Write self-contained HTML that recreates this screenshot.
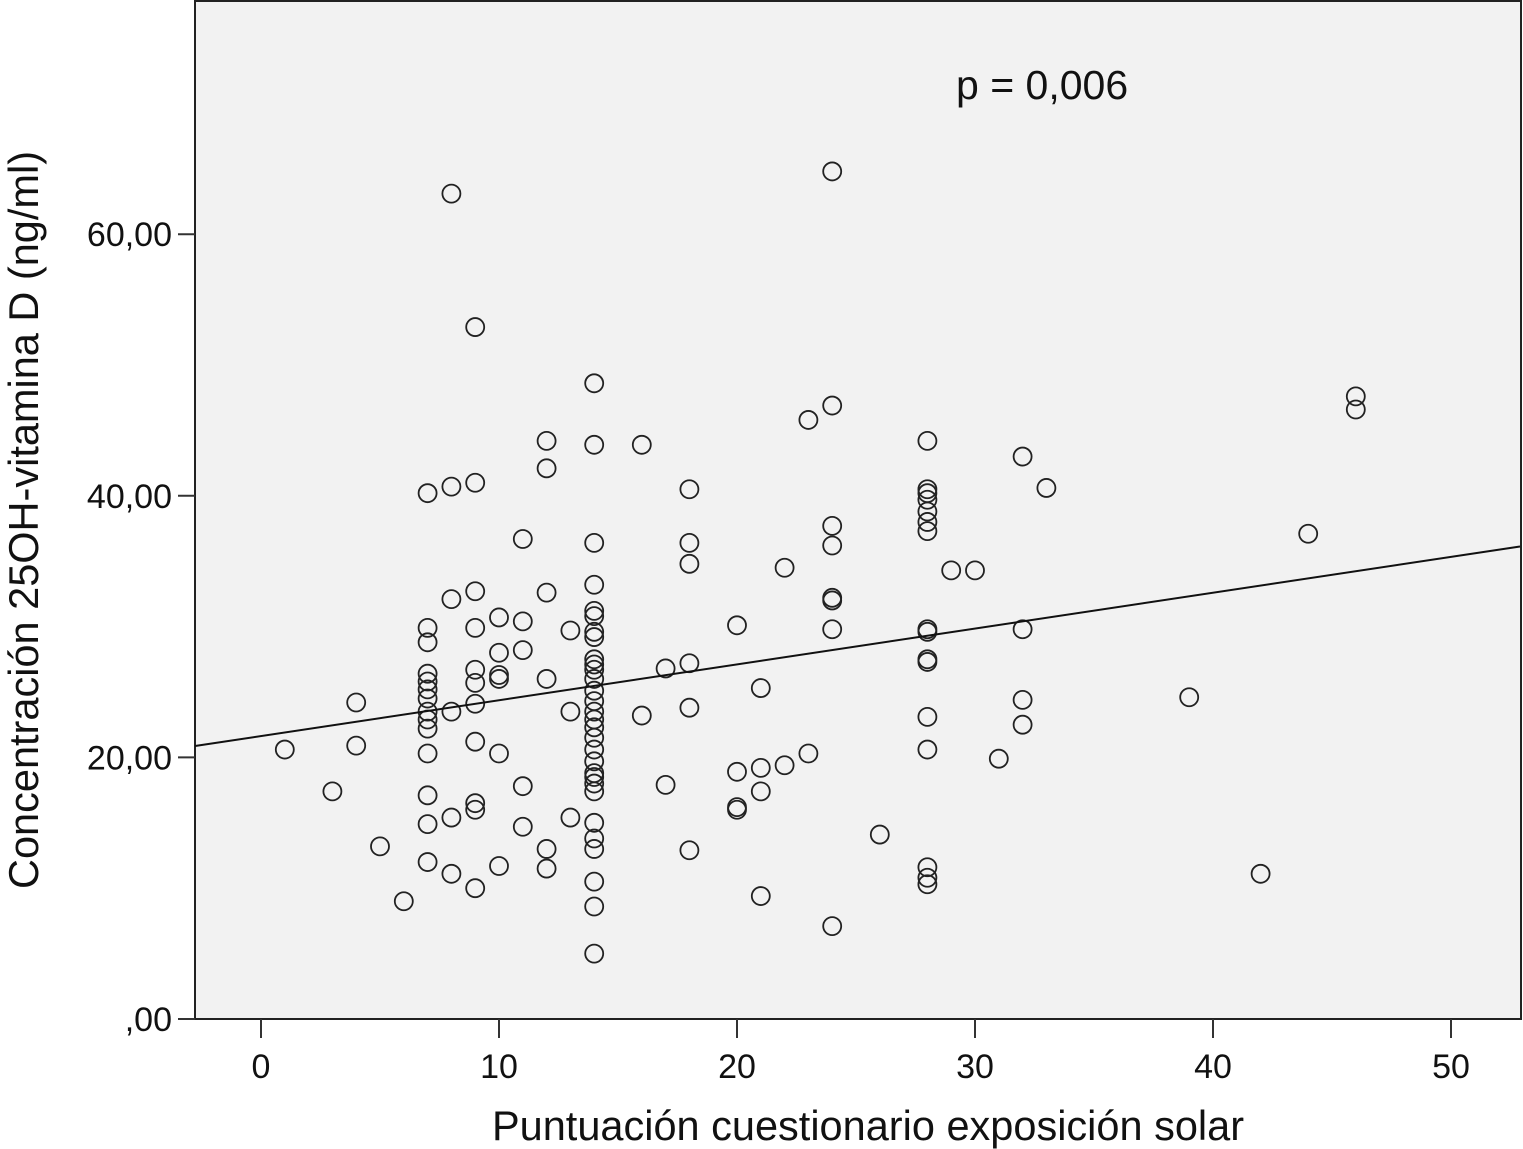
<!DOCTYPE html>
<html><head><meta charset="utf-8"><style>
html,body{margin:0;padding:0;background:#fff;}
svg{display:block;font-family:"Liberation Sans",Arial,sans-serif;}
</style></head><body>
<svg id="chart" width="1523" height="1149" viewBox="0 0 1523 1149" xmlns="http://www.w3.org/2000/svg">
<rect x="195" y="1" width="1326" height="1018" fill="#f2f2f2" stroke="#222" stroke-width="2"/>
<g id="marks"></g>
<g id="axes"></g>
<text x="956" y="99" font-size="41" fill="#111">p = 0,006</text>
<text x="868" y="1140" font-size="41.5" text-anchor="middle" fill="#111">Puntuación cuestionario exposición solar</text>
<text transform="translate(38,520) rotate(-90)" font-size="41.5" text-anchor="middle" fill="#111">Concentración 25OH-vitamina D (ng/ml)</text>
</svg>
<script>
const xTicks=[0,10,20,30,40,50];
const yTicks=[0,20,40,60];
const yTickLabels=[",00","20,00","40,00","60,00"];
const regIntercept=21.63;
const regSlope=0.274;
const xs=[1,3,4,4,5,6,
7,7,7,7,7,7,7,7,7,7,7,7,7,7,
8,8,8,8,8,8,
9,9,9,9,9,9,9,9,9,9,9,
10,10,10,10,10,10,
11,11,11,11,11,
12,12,12,12,12,12,
13,13,13,
14,14,14,14,14,14,14,14,14,14,14,14,14,14,14,14,14,14,14,14,14,14,14,14,14,14,14,14,14,14,
16,16,17,17,
18,18,18,18,18,18,
20,20,20,20,
21,21,21,21,
22,22,23,23,
24,24,24,24,24,24,24,24,
26,
28,28,28,28,28,28,28,28,28,28,28,28,28,28,28,28,
29,30,31,32,32,32,32,33,39,42,44,46,46];
const ys=[20.6,17.4,24.2,20.9,13.2,9.0,
40.2,29.9,28.8,26.4,25.8,25.2,24.5,23.5,22.9,22.2,20.3,17.1,14.9,12.0,
63.1,40.7,32.1,23.5,15.4,11.1,
52.9,41.0,32.7,29.9,26.7,25.7,24.1,21.2,16.5,16.0,10.0,
30.7,28.0,26.3,26.0,20.3,11.7,
36.7,30.4,28.2,17.8,14.7,
44.2,42.1,32.6,26.0,13.0,11.5,
29.7,23.5,15.4,
48.6,43.9,36.4,33.2,31.2,30.8,29.6,29.2,27.5,27.1,26.7,26.0,25.1,24.3,23.5,22.9,22.3,21.5,20.6,19.7,18.8,18.5,18.0,17.4,15.0,13.8,13.0,10.5,8.6,5.0,
43.9,23.2,26.8,17.9,
40.5,36.4,34.8,27.2,23.8,12.9,
30.1,18.9,16.2,16.0,
25.3,19.2,17.4,9.4,
34.5,19.4,45.8,20.3,
64.8,46.9,37.7,36.2,32.2,32.0,29.8,7.1,
14.1,
44.2,40.5,40.2,39.7,38.8,38.0,37.3,29.8,29.6,27.5,27.3,23.1,20.6,11.6,10.8,10.3,
34.3,34.3,19.9,43.0,29.8,24.4,22.5,40.6,24.6,11.1,37.1,47.6,46.6];
const NS="http://www.w3.org/2000/svg";
function sx(v){return 261+v*23.8;}
function sy(v){return 1019-v*13.08;}
const marks=document.getElementById('marks');
const axes=document.getElementById('axes');
for(let i=0;i<xs.length;i++){
  const c=document.createElementNS(NS,'circle');
  c.setAttribute('cx',sx(xs[i]));c.setAttribute('cy',sy(ys[i]));c.setAttribute('r',9);
  c.setAttribute('fill','none');c.setAttribute('stroke','#222');c.setAttribute('stroke-width',1.8);
  
  
  marks.appendChild(c);
}
const x0=(195-261)/23.8, x1=(1520-261)/23.8;
const ln=document.createElementNS(NS,'line');
ln.setAttribute('x1',sx(x0));ln.setAttribute('y1',sy(regIntercept+regSlope*x0));
ln.setAttribute('x2',sx(x1));ln.setAttribute('y2',sy(regIntercept+regSlope*x1));
ln.setAttribute('stroke','#111');ln.setAttribute('stroke-width',2);


marks.appendChild(ln);
xTicks.forEach(function(t){
  const l=document.createElementNS(NS,'line');
  l.setAttribute('x1',sx(t));l.setAttribute('x2',sx(t));l.setAttribute('y1',1019);l.setAttribute('y2',1038);
  l.setAttribute('stroke','#333');l.setAttribute('stroke-width',2);
  
  
  axes.appendChild(l);
  const tx=document.createElementNS(NS,'text');
  tx.setAttribute('x',sx(t));tx.setAttribute('y',1078);tx.setAttribute('text-anchor','middle');
  tx.setAttribute('font-size',34);tx.setAttribute('fill','#111');tx.textContent=t;
  
  
  axes.appendChild(tx);
});
yTicks.forEach(function(t,i){
  const l=document.createElementNS(NS,'line');
  l.setAttribute('x1',178);l.setAttribute('x2',195);l.setAttribute('y1',sy(t));l.setAttribute('y2',sy(t));
  l.setAttribute('stroke','#333');l.setAttribute('stroke-width',2);
  
  
  axes.appendChild(l);
  const tx=document.createElementNS(NS,'text');
  tx.setAttribute('x',172);tx.setAttribute('y',sy(t)+12);tx.setAttribute('text-anchor','end');
  tx.setAttribute('font-size',34);tx.setAttribute('fill','#111');tx.textContent=yTickLabels[i];
  
  
  axes.appendChild(tx);
});
</script>
</body></html>
